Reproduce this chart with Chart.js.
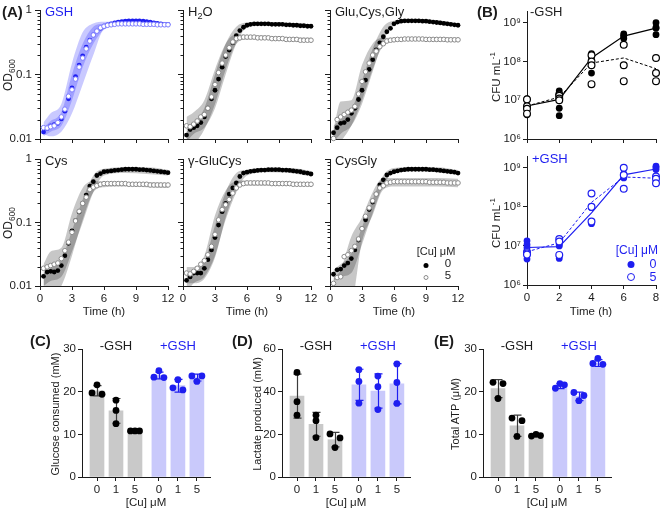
<!DOCTYPE html>
<html>
<head>
<meta charset="utf-8">
<script src="https://cdn.jsdelivr.net/npm/chart.js@4.4.1/dist/chart.umd.min.js"></script>
<style>
  body { margin: 0; background: #fff; }
  #fig { position: relative; width: 660px; height: 510px; overflow: hidden;
         font-family: "Liberation Sans", Arial, sans-serif; color: #1c1c1c; }
  #fig canvas { position: absolute; }
  .t { position: absolute; white-space: nowrap; line-height: 1; z-index: 2; }
  .t sub, .t sup { font-size: 70%; line-height: 0; }
  .dot { display: inline-block; border-radius: 50%; box-sizing: border-box; }
</style>
</head>
<body>
<div id="fig"></div>
<script>
// ---------- (A) OD600 growth curves, one read every 20 min ----------
const TIME_H = [0.33, 0.67, 1, 1.33, 1.67, 2, 2.33, 2.67, 3, 3.33, 3.67, 4, 4.33, 4.67, 5, 5.33, 5.67, 6,
  6.33, 6.67, 7, 7.33, 7.67, 8, 8.33, 8.67, 9, 9.33, 9.67, 10, 10.33, 10.67, 11, 11.33, 11.67, 12];
const PANEL_NAMES = ['GSH', 'H<sub>2</sub>O', 'Glu,Cys,Gly', 'Cys', 'γ-GluCys', 'CysGly'];

const OD_GSH_CU0 = [0.0128, 0.0145, 0.016, 0.0167, 0.0175, 0.0205, 0.027, 0.042, 0.062, 0.093, 0.14, 0.195, 0.265, 0.34, 0.41, 0.47, 0.52, 0.56,
  0.59, 0.61, 0.63, 0.65, 0.66, 0.67, 0.68, 0.68, 0.68, 0.68, 0.67, 0.66, 0.65, 0.63, 0.62, 0.61, 0.6, 0.6];
const OD_GSH_CU5 = [0.015, 0.0148, 0.0155, 0.016, 0.018, 0.022, 0.029, 0.046, 0.058, 0.085, 0.13, 0.18, 0.25, 0.33, 0.41, 0.47, 0.53, 0.56,
  0.58, 0.59, 0.6, 0.61, 0.61, 0.61, 0.61, 0.61, 0.61, 0.61, 0.6, 0.6, 0.6, 0.6, 0.59, 0.59, 0.59, 0.59];
const OD_H2O_CU0 = [0.0115, 0.014, 0.015, 0.016, 0.018, 0.022, 0.03, 0.042, 0.057, 0.085, 0.13, 0.19, 0.24, 0.31, 0.4, 0.48, 0.54, 0.58,
  0.6, 0.61, 0.61, 0.61, 0.61, 0.61, 0.6, 0.6, 0.6, 0.6, 0.59, 0.59, 0.58, 0.58, 0.57, 0.57, 0.56, 0.56];
const OD_H2O_CU5 = [0.016, 0.0155, 0.017, 0.019, 0.022, 0.024, 0.03, 0.045, 0.07, 0.107, 0.15, 0.2, 0.26, 0.32, 0.36, 0.37, 0.38, 0.38,
  0.38, 0.38, 0.37, 0.37, 0.37, 0.37, 0.36, 0.36, 0.36, 0.36, 0.35, 0.35, 0.35, 0.35, 0.34, 0.34, 0.34, 0.34];
const OD_GCG_CU0 = [0.0125, 0.015, 0.0175, 0.018, 0.02, 0.025, 0.03, 0.041, 0.057, 0.082, 0.12, 0.17, 0.24, 0.31, 0.385, 0.46, 0.52, 0.61,
  0.65, 0.67, 0.68, 0.68, 0.68, 0.68, 0.68, 0.67, 0.67, 0.66, 0.65, 0.64, 0.63, 0.62, 0.61, 0.6, 0.59, 0.58];
const OD_GCG_CU5 = [0.0102, 0.02, 0.022, 0.024, 0.026, 0.028, 0.032, 0.05, 0.078, 0.11, 0.15, 0.2, 0.23, 0.27, 0.3, 0.33, 0.34, 0.345,
  0.35, 0.35, 0.355, 0.355, 0.355, 0.355, 0.355, 0.355, 0.35, 0.35, 0.35, 0.35, 0.35, 0.35, 0.345, 0.345, 0.345, 0.345];
const OD_CYS_CU0 = [0.0142, 0.0166, 0.017, 0.0166, 0.0175, 0.021, 0.03, 0.047, 0.074, 0.107, 0.147, 0.2, 0.27, 0.375, 0.44, 0.55, 0.59, 0.63,
  0.64, 0.65, 0.66, 0.67, 0.68, 0.69, 0.69, 0.69, 0.69, 0.68, 0.68, 0.67, 0.66, 0.65, 0.64, 0.63, 0.62, 0.61];
const OD_CYS_CU5 = [0.019, 0.02, 0.021, 0.022, 0.023, 0.027, 0.036, 0.049, 0.07, 0.106, 0.15, 0.2, 0.25, 0.33, 0.36, 0.38, 0.4, 0.41,
  0.41, 0.41, 0.41, 0.41, 0.41, 0.41, 0.4, 0.4, 0.4, 0.4, 0.4, 0.4, 0.39, 0.39, 0.39, 0.39, 0.39, 0.39];
const OD_GLUCYS_CU0 = [0.0123, 0.0139, 0.016, 0.016, 0.016, 0.019, 0.026, 0.037, 0.058, 0.091, 0.148, 0.2, 0.28, 0.35, 0.42, 0.53, 0.6, 0.62,
  0.64, 0.65, 0.66, 0.67, 0.67, 0.68, 0.68, 0.68, 0.68, 0.67, 0.67, 0.66, 0.65, 0.64, 0.63, 0.61, 0.6, 0.58];
const OD_GLUCYS_CU5 = [0.016, 0.0155, 0.017, 0.019, 0.022, 0.025, 0.031, 0.042, 0.065, 0.11, 0.16, 0.19, 0.23, 0.29, 0.35, 0.39, 0.41, 0.42,
  0.42, 0.42, 0.42, 0.42, 0.42, 0.42, 0.41, 0.41, 0.41, 0.41, 0.41, 0.41, 0.4, 0.4, 0.4, 0.4, 0.4, 0.4];
const OD_CYSGLY_CU0 = [0.0153, 0.018, 0.0185, 0.021, 0.023, 0.027, 0.037, 0.053, 0.08, 0.11, 0.16, 0.21, 0.28, 0.39, 0.47, 0.56, 0.6, 0.63,
  0.65, 0.67, 0.68, 0.69, 0.69, 0.69, 0.69, 0.69, 0.69, 0.68, 0.68, 0.67, 0.66, 0.65, 0.64, 0.63, 0.62, 0.6];
const OD_CYSGLY_CU5 = [0.011, 0.0136, 0.014, 0.029, 0.031, 0.036, 0.042, 0.055, 0.08, 0.125, 0.17, 0.22, 0.28, 0.35, 0.38, 0.42, 0.43, 0.44,
  0.44, 0.44, 0.44, 0.44, 0.44, 0.44, 0.44, 0.44, 0.44, 0.43, 0.43, 0.43, 0.43, 0.43, 0.42, 0.42, 0.42, 0.42];

// SD envelopes, read at coarser times
const BAND_T = [0.33, 1, 2, 3, 4, 5, 6, 8, 10, 12];
const BAND_GSH_CU0_LO = [0.011, 0.013, 0.016, 0.04, 0.13, 0.3, 0.5, 0.62, 0.6, 0.56];
const BAND_GSH_CU0_HI = [0.015, 0.019, 0.026, 0.1, 0.3, 0.55, 0.62, 0.72, 0.7, 0.63];
const BAND_GSH_CU5_LO = [0.012, 0.011, 0.013, 0.025, 0.07, 0.2, 0.5, 0.57, 0.56, 0.55];
const BAND_GSH_CU5_HI = [0.018, 0.025, 0.035, 0.15, 0.45, 0.62, 0.66, 0.66, 0.66, 0.63];
const BAND_H2O_CU0_LO = [0.009, 0.012, 0.015, 0.03, 0.1, 0.3, 0.53, 0.58, 0.57, 0.53];
const BAND_H2O_CU0_HI = [0.013, 0.017, 0.03, 0.1, 0.3, 0.55, 0.64, 0.65, 0.63, 0.6];
const BAND_H2O_CU5_LO = [0.006, 0.008, 0.014, 0.035, 0.12, 0.3, 0.35, 0.35, 0.34, 0.32];
const BAND_H2O_CU5_HI = [0.022, 0.026, 0.04, 0.12, 0.3, 0.42, 0.41, 0.4, 0.38, 0.37];
const BAND_GCG_CU0_LO = [0.009, 0.012, 0.016, 0.035, 0.11, 0.33, 0.58, 0.64, 0.62, 0.55];
const BAND_GCG_CU0_HI = [0.016, 0.02, 0.028, 0.08, 0.25, 0.55, 0.68, 0.72, 0.7, 0.62];
const BAND_GCG_CU5_LO = [0.006, 0.009, 0.016, 0.04, 0.12, 0.28, 0.32, 0.33, 0.33, 0.32];
const BAND_GCG_CU5_HI = [0.014, 0.038, 0.04, 0.14, 0.3, 0.37, 0.37, 0.38, 0.38, 0.37];
const BAND_CYS_CU0_LO = [0.01, 0.012, 0.014, 0.035, 0.1, 0.3, 0.55, 0.6, 0.58, 0.55];
const BAND_CYS_CU0_HI = [0.016, 0.019, 0.026, 0.075, 0.23, 0.55, 0.7, 0.74, 0.74, 0.68];
const BAND_CYS_CU5_LO = [0.006, 0.007, 0.01, 0.03, 0.11, 0.3, 0.36, 0.37, 0.36, 0.35];
const BAND_CYS_CU5_HI = [0.022, 0.035, 0.04, 0.14, 0.35, 0.45, 0.44, 0.43, 0.43, 0.42];
const BAND_GLUCYS_CU0_LO = [0.008, 0.011, 0.014, 0.03, 0.11, 0.3, 0.55, 0.62, 0.6, 0.53];
const BAND_GLUCYS_CU0_HI = [0.015, 0.018, 0.024, 0.09, 0.3, 0.6, 0.68, 0.72, 0.72, 0.65];
const BAND_GLUCYS_CU5_LO = [0.011, 0.011, 0.013, 0.028, 0.12, 0.32, 0.38, 0.38, 0.38, 0.37];
const BAND_GLUCYS_CU5_HI = [0.02, 0.02, 0.03, 0.13, 0.32, 0.45, 0.46, 0.45, 0.44, 0.43];
const BAND_CYSGLY_CU0_LO = [0.012, 0.014, 0.016, 0.045, 0.14, 0.38, 0.6, 0.64, 0.62, 0.56];
const BAND_CYSGLY_CU0_HI = [0.018, 0.022, 0.032, 0.085, 0.23, 0.55, 0.72, 0.74, 0.74, 0.67];
const BAND_CYSGLY_CU5_LO = [0.008, 0.009, 0.006, 0.05, 0.13, 0.33, 0.37, 0.37, 0.37, 0.36];
const BAND_CYSGLY_CU5_HI = [0.013, 0.018, 0.06, 0.12, 0.3, 0.5, 0.5, 0.5, 0.5, 0.49];

// ---------- (B) CFU counts ----------
const CFU_TIME = [0, 2, 4, 6, 8];
const CFU_MINUS_CU0 = [[1.1e7, 6.2e6, 6.0e6, 4.2e6], [1.75e7, 1.4e7, 6.2e6, 4.0e6], [1.6e8, 1.35e8, 1.1e8, 5.0e7],
  [5.1e8, 4.7e8, 4.3e8, 3.9e8], [1.0e9, 7.5e8, 7.2e8, 4.9e8]];
const CFU_MINUS_CU5 = [[1.05e7, 7.0e6, 6.0e6, 4.5e6], [1.4e7, 1.3e7, 1.1e7, 1.0e7], [1.45e8, 1.0e8, 8.0e7, 2.6e7],
  [2.7e8, 8.0e7, 3.1e7], [1.23e8, 5.0e7, 3.1e7]];
const CFU_MINUS_CU0_MEAN = [7.1e6, 1.05e7, 1.23e8, 4.5e8, 7.2e8];
const CFU_MINUS_CU5_MEAN = [7.1e6, 1.2e7, 9.1e7, 1.23e8, 6.5e7];
const CFU_PLUS_CU0 = [[1.35e7, 1.07e7, 9.0e6, 4.6e6], [1.07e7, 1.0e7, 4.8e6], [1.0e8, 9.5e7, 4.0e7, 3.7e7],
  [7.0e8, 6.3e8, 5.5e8], [1.1e9, 1.0e9, 9.0e8]];
const CFU_PLUS_CU5 = [[7.0e6, 6.5e6, 6.0e6], [1.5e7, 1.3e7, 5.9e6], [2.2e8, 1.0e8, 4.2e7],
  [1.0e9, 6.5e8, 2.9e8], [6.0e8, 5.2e8, 4.0e8]];
const CFU_PLUS_CU0_MEAN = [9.1e6, 9.6e6, 7.0e7, 6.6e8, 9.3e8];
const CFU_PLUS_CU5_MEAN = [7.1e6, 1.2e7, 1.3e8, 5.8e8, 5.4e8];

// ---------- (C)-(E) endpoint assays ----------
const CU_LEVELS = ['0', '1', '5'];
const GLUCOSE_MINUS_MEAN = [20.2, 15.5, 10.8];
const GLUCOSE_MINUS_SD = [1.2, 2.9, 0.1];
const GLUCOSE_MINUS_PTS = [[21.6, 19.7, 19.4], [18.0, 15.6, 12.5], [10.8, 10.8, 10.8]];
const GLUCOSE_PLUS_MEAN = [23.8, 21.4, 23.3];
const GLUCOSE_PLUS_SD = [0.8, 1.5, 0.8];
const GLUCOSE_PLUS_PTS = [[24.9, 23.4, 23.3], [22.8, 20.9, 20.4], [23.7, 23.7, 22.4]];

const LACTATE_MINUS_MEAN = [37.9, 24.7, 17.5];
const LACTATE_MINUS_SD = [10.3, 5.6, 3.4];
const LACTATE_MINUS_PTS = [[49.0, 35.3, 29.0], [29.0, 26.4, 18.5], [20.2, 18.3, 13.8]];
const LACTATE_PLUS_MEAN = [43.2, 40.3, 43.7];
const LACTATE_PLUS_SD = [7.3, 8.0, 9.4];
const LACTATE_PLUS_PTS = [[50.3, 44.8, 34.6], [47.3, 42.3, 31.6], [53.0, 44.3, 34.5]];

const ATP_MINUS_MEAN = [20.7, 12.0, 9.7];
const ATP_MINUS_SD = [2.1, 2.5, 0.2];
const ATP_MINUS_PTS = [[22.2, 21.9, 18.4], [13.8, 13.2, 9.5], [10.0, 9.7, 9.6]];
const ATP_PLUS_MEAN = [21.3, 18.9, 26.7];
const ATP_PLUS_SD = [0.6, 1.0, 0.8];
const ATP_PLUS_PTS = [[21.9, 21.6, 20.8], [19.8, 19.1, 17.9], [27.8, 26.6, 26.4]];

// ---------- look ----------
const FONT = '"Liberation Sans", Arial, sans-serif';
const INK = '#1c1c1c';
const BLUE = '#1e1ef0';
const BAR_GRAY = '#c9c9c9';
const BAR_BLUE = '#c9c9fb';
const PADL = 46, PADT = 12, PADR = 12, PADB = 36;

Chart.defaults.font.family = FONT;
Chart.defaults.color = INK;
Chart.defaults.plugins.legend.display = false;
Chart.defaults.plugins.tooltip.enabled = false;

const fig = document.getElementById('fig');

function txt(html, x, y, o = {}) {
  const d = document.createElement('div');
  d.className = 't';
  d.innerHTML = html;
  d.style.left = x + 'px';
  d.style.top = y + 'px';
  d.style.fontSize = (o.size || 12) + 'px';
  if (o.color) d.style.color = o.color;
  if (o.bold) d.style.fontWeight = 'bold';
  const ax = o.anchor === 'c' ? '-50%' : o.anchor === 'r' ? '-100%' : '0';
  d.style.transform = o.rot ? 'translate(-50%,-50%) rotate(-90deg)' : 'translate(' + ax + ',-50%)';
  fig.appendChild(d);
  return d;
}

// put a chart so that its plot area lands on (left, top, w, h)
function place(left, top, w, h, cfg) {
  const c = document.createElement('canvas');
  c.width = PADL + w + PADR;
  c.height = PADT + h + PADB;
  c.style.left = (left - PADL) + 'px';
  c.style.top = (top - PADT) + 'px';
  fig.appendChild(c);
  cfg.options.responsive = false;
  cfg.options.animation = false;
  cfg.options.devicePixelRatio = 1;
  cfg.options.layout = { padding: { left: 0, top: PADT, right: PADR, bottom: 0 } };
  cfg.options.scales.x.afterFit = s => { s.height = PADB; };
  cfg.options.scales.y.afterFit = s => { s.width = PADL; };
  return new Chart(c, cfg);
}

function axis(type, min, max, ticks, fmt, show, tickLen, pad) {
  return {
    type, min, max, offset: false,
    afterBuildTicks: s => { s.ticks = ticks.map(v => ({ value: v })); },
    ticks: { display: show, callback: fmt, color: INK, padding: pad, autoSkip: false, maxRotation: 0,
             font: { size: 11.5, family: FONT } },
    grid: { display: true, offset: false, drawOnChartArea: false, drawTicks: true, tickLength: tickLen,
            color: INK, lineWidth: 1 },
    border: { display: true, color: INK, width: 1 }
  };
}

const minorTicks = {
  id: 'minorTicks',
  afterDraw(chart) {
    const s = chart.scales.y, ctx = chart.ctx, x0 = chart.chartArea.left;
    ctx.save();
    ctx.strokeStyle = INK;
    ctx.lineWidth = 1;
    ctx.beginPath();
    [0.01, 0.1].forEach(d => {
      for (let k = 2; k < 10; k++) {
        const y = Math.round(s.getPixelForValue(k * d)) + 0.5;
        ctx.moveTo(x0 - 2.5, y);
        ctx.lineTo(x0, y);
      }
    });
    ctx.stroke();
    ctx.restore();
  }
};

// ---------- (A) ----------
const growth = [
  [OD_GSH_CU0, OD_GSH_CU5, BAND_GSH_CU0_LO, BAND_GSH_CU0_HI, BAND_GSH_CU5_LO, BAND_GSH_CU5_HI],
  [OD_H2O_CU0, OD_H2O_CU5, BAND_H2O_CU0_LO, BAND_H2O_CU0_HI, BAND_H2O_CU5_LO, BAND_H2O_CU5_HI],
  [OD_GCG_CU0, OD_GCG_CU5, BAND_GCG_CU0_LO, BAND_GCG_CU0_HI, BAND_GCG_CU5_LO, BAND_GCG_CU5_HI],
  [OD_CYS_CU0, OD_CYS_CU5, BAND_CYS_CU0_LO, BAND_CYS_CU0_HI, BAND_CYS_CU5_LO, BAND_CYS_CU5_HI],
  [OD_GLUCYS_CU0, OD_GLUCYS_CU5, BAND_GLUCYS_CU0_LO, BAND_GLUCYS_CU0_HI, BAND_GLUCYS_CU5_LO, BAND_GLUCYS_CU5_HI],
  [OD_CYSGLY_CU0, OD_CYSGLY_CU5, BAND_CYSGLY_CU0_LO, BAND_CYSGLY_CU0_HI, BAND_CYSGLY_CU5_LO, BAND_CYSGLY_CU5_HI]
];
const A_LEFT = [40, 183, 330];
const A_ROWS = [{ top: 10, h: 129 }, { top: 159, h: 127 }];
const odFmt = v => (v === 1 ? '1' : String(v));

growth.forEach((p, i) => {
  const col = i % 3, row = Math.floor(i / 3), blue = i === 0;
  const xy = (ts, vs) => vs.map((v, k) => ({ x: ts[k], y: v }));
  const band = blue ? 'rgba(40,40,255,0.25)' : 'rgba(0,0,0,0.22)';
  const bandDs = (vals, fill) => ({
    data: xy(BAND_T, vals), borderWidth: 0, pointRadius: 0, fill, backgroundColor: band,
    cubicInterpolationMode: 'monotone', clip: 0
  });
  place(A_LEFT[col], A_ROWS[row].top, 128, A_ROWS[row].h, {
    type: 'line',
    data: {
      datasets: [
        { data: xy(TIME_H, p[1]), showLine: false, pointRadius: 2.3, pointBorderWidth: 1,
          pointBackgroundColor: '#fff', pointBorderColor: blue ? '#7f7fff' : '#8a8a8a', clip: false },
        { data: xy(TIME_H, p[0]), showLine: false, pointRadius: 2.4, pointBorderWidth: 0,
          pointBackgroundColor: blue ? BLUE : '#000', clip: false },
        bandDs(p[2], false), bandDs(p[3], '-1'),
        bandDs(p[4], false), bandDs(p[5], '-1')
      ]
    },
    options: {
      scales: {
        x: axis('linear', 0, 12, [0, 3, 6, 9, 12], v => String(v), row === 1, 4, 2),
        y: axis('logarithmic', 0.01, 1, [0.01, 0.1, 1], odFmt, col === 0, 5, 3)
      }
    },
    plugins: [minorTicks]
  });
  const y0 = A_ROWS[row].top;
  txt(PANEL_NAMES[i], A_LEFT[col] + 5, y0 + 1, { size: 13, color: blue ? BLUE : INK });
  if (col === 0) txt('OD<sub>600</sub>', 8, y0 + A_ROWS[row].h / 2, { rot: true, size: 12 });
  if (row === 1) txt('Time (h)', A_LEFT[col] + 64, 312, { anchor: 'c', size: 11.5 });
});

// legend for (A)
txt('[Cu] μM', 436, 251, { anchor: 'c', size: 11 });
txt('<span class="dot" style="width:5px;height:5px;background:#000"></span>', 426, 264, { anchor: 'c' });
txt('0', 448, 264, { anchor: 'c', size: 11.5 });
txt('<span class="dot" style="width:5px;height:5px;border:1px solid #8a8a8a;background:#fff"></span>', 426, 276, { anchor: 'c' });
txt('5', 448, 276, { anchor: 'c', size: 11.5 });

// ---------- (B) ----------
const SUP = { 6: '⁶', 7: '⁷', 8: '⁸', 9: '⁹' };
const cfuFmt = v => '10' + SUP[Math.round(Math.log10(v))];

function cfuPanel(top, h, pts0, pts5, mean0, mean5, color, showX) {
  const flat = nested => nested.flatMap((vals, k) => vals.map(v => ({ x: CFU_TIME[k], y: v })));
  const line = vals => vals.map((v, k) => ({ x: CFU_TIME[k], y: v }));
  place(527, top, 129, h, {
    type: 'line',
    data: {
      datasets: [
        { data: flat(pts5), showLine: false, pointRadius: 3.4, pointBorderWidth: 1.2,
          pointBackgroundColor: '#fff', pointBorderColor: color, clip: false },
        { data: flat(pts0), showLine: false, pointRadius: 3.4, pointBorderWidth: 0,
          pointBackgroundColor: color, clip: false },
        { data: line(mean5), borderColor: color, borderWidth: 1, borderDash: [3, 2], pointRadius: 0, clip: false },
        { data: line(mean0), borderColor: color, borderWidth: 1.2, pointRadius: 0, clip: false }
      ]
    },
    options: {
      scales: {
        x: axis('linear', 0, 8, [0, 2, 4, 6, 8], v => String(v), showX, 4, 2),
        y: axis('logarithmic', 1e6, 2e9, [1e6, 1e7, 1e8, 1e9], cfuFmt, true, 4, 2)
      }
    }
  });
  txt('CFU mL<sup>-1</sup>', 497, top + h / 2 + 2, { rot: true, size: 11.5 });
}
cfuPanel(11, 128, CFU_MINUS_CU0, CFU_MINUS_CU5, CFU_MINUS_CU0_MEAN, CFU_MINUS_CU5_MEAN, '#000', false);
cfuPanel(156, 129, CFU_PLUS_CU0, CFU_PLUS_CU5, CFU_PLUS_CU0_MEAN, CFU_PLUS_CU5_MEAN, BLUE, true);
txt('-GSH', 530, 11, { size: 13 });
txt('+GSH', 532, 158, { size: 13, color: BLUE });
txt('Time (h)', 591, 312, { anchor: 'c', size: 11.5 });
txt('[Cu] μM', 658, 250, { anchor: 'r', size: 12, color: BLUE });
txt('<span class="dot" style="width:7px;height:7px;background:' + BLUE + '"></span>', 631, 264, { anchor: 'c' });
txt('0', 653, 264, { anchor: 'c', size: 12.5, color: BLUE });
txt('<span class="dot" style="width:8px;height:8px;border:1.2px solid ' + BLUE + ';background:#fff"></span>', 631, 277, { anchor: 'c' });
txt('5', 653, 277, { anchor: 'c', size: 12.5, color: BLUE });

// ---------- (C)-(E) ----------
const GROUP_STEP = 3.26, X_MIN = -0.79, X_MAX = 5.95, BAR_W = 128, BAR_H = 128, BAR_TOP = 349;
const X_PX = BAR_W / (X_MAX - X_MIN);

// GraphPad-like horizontal spreading of replicate dots that overlap
function spread(vals, pxPerUnit) {
  const order = vals.map((v, i) => i).sort((a, b) => vals[b] - vals[a]);
  const off = vals.map(() => 0);
  let cl = [order[0]];
  const flush = () => {
    const pat = cl.length === 1 ? [0] : cl.length === 2 ? [-5, 5] : [0, 4.5, -4.5];
    cl.forEach((idx, k) => { off[idx] = pat[k] || 0; });
  };
  for (let k = 1; k < order.length; k++) {
    const prev = cl[cl.length - 1];
    if ((vals[prev] - vals[order[k]]) * pxPerUnit < 5) cl.push(order[k]);
    else { flush(); cl = [order[k]]; }
  }
  flush();
  return off;
}

const errorBars = {
  id: 'errbars',
  afterDatasetDraw(chart, args, opts) {
    if (args.meta.type !== 'bar') return;
    const ctx = chart.ctx, xs = chart.scales.x, ys = chart.scales.y;
    ctx.save();
    ctx.lineWidth = 1.2;
    opts.items.forEach(e => {
      const px = Math.round(xs.getPixelForValue(e.x)) + 0.5;
      const y1 = ys.getPixelForValue(e.m + e.sd), y0 = ys.getPixelForValue(e.m - e.sd);
      ctx.strokeStyle = e.color;
      ctx.beginPath();
      ctx.moveTo(px, y0); ctx.lineTo(px, y1);
      ctx.moveTo(px - 4, y1); ctx.lineTo(px + 4, y1);
      ctx.moveTo(px - 4, y0); ctx.lineTo(px + 4, y0);
      ctx.stroke();
    });
    ctx.restore();
  }
};

function barPanel(left, yMax, yTicks, means, sds, pts, title, titleX, tag, tagX) {
  const bars = [], barCol = [], dots = [], dotCol = [], errs = [], xt = [];
  const yPx = BAR_H / yMax;
  for (let g = 0; g < 2; g++) {
    for (let i = 0; i < CU_LEVELS.length; i++) {
      const x = g * GROUP_STEP + i;
      xt.push(x);
      bars.push({ x, y: means[g][i] });
      barCol.push(g ? BAR_BLUE : BAR_GRAY);
      errs.push({ x, m: means[g][i], sd: sds[g][i], color: g ? BLUE : '#3c3c3c' });
      const off = spread(pts[g][i], yPx);
      pts[g][i].forEach((v, k) => {
        dots.push({ x: x + off[k] / X_PX, y: v });
        dotCol.push(g ? BLUE : '#000');
      });
    }
  }
  place(left, BAR_TOP, BAR_W, BAR_H, {
    type: 'bar',
    data: {
      datasets: [
        { type: 'scatter', data: dots, pointRadius: 3.4, pointBorderWidth: 0,
          pointBackgroundColor: dotCol, order: 0, clip: false },
        { data: bars, backgroundColor: barCol, barThickness: 14, borderWidth: 0, order: 1 }
      ]
    },
    options: {
      plugins: { errbars: { items: errs } },
      scales: {
        x: axis('linear', X_MIN, X_MAX, xt, (v, idx) => CU_LEVELS[idx % 3], true, 4, 2),
        y: axis('linear', 0, yMax, yTicks, v => String(v), true, 4, 2)
      }
    },
    plugins: [errorBars]
  });
  const cx = left - X_MIN * X_PX;
  txt('-GSH', cx + 1 * X_PX, 345, { anchor: 'c', size: 13 });
  txt('+GSH', cx + (GROUP_STEP + 1) * X_PX, 345, { anchor: 'c', size: 13, color: BLUE });
  txt('[Cu] μM', left + BAR_W / 2, 503, { anchor: 'c', size: 11.5 });
  txt(title, titleX, 414, { rot: true, size: 11 });
  txt('(' + tag + ')', tagX, 340, { size: 15, bold: true });
}

barPanel(82, 30, [0, 10, 20, 30],
  [GLUCOSE_MINUS_MEAN, GLUCOSE_PLUS_MEAN], [GLUCOSE_MINUS_SD, GLUCOSE_PLUS_SD], [GLUCOSE_MINUS_PTS, GLUCOSE_PLUS_PTS],
  'Glucose consumed (mM)', 55, 'C', 30);
barPanel(282, 60, [0, 20, 40, 60],
  [LACTATE_MINUS_MEAN, LACTATE_PLUS_MEAN], [LACTATE_MINUS_SD, LACTATE_PLUS_SD], [LACTATE_MINUS_PTS, LACTATE_PLUS_PTS],
  'Lactate produced (mM)', 257, 'D', 232);
barPanel(483, 30, [0, 10, 20, 30],
  [ATP_MINUS_MEAN, ATP_PLUS_MEAN], [ATP_MINUS_SD, ATP_PLUS_SD], [ATP_MINUS_PTS, ATP_PLUS_PTS],
  'Total ATP (μM)', 455, 'E', 434);

txt('(A)', 2, 11, { size: 15, bold: true });
txt('(B)', 477, 11, { size: 15, bold: true });
</script>
</body>
</html>
